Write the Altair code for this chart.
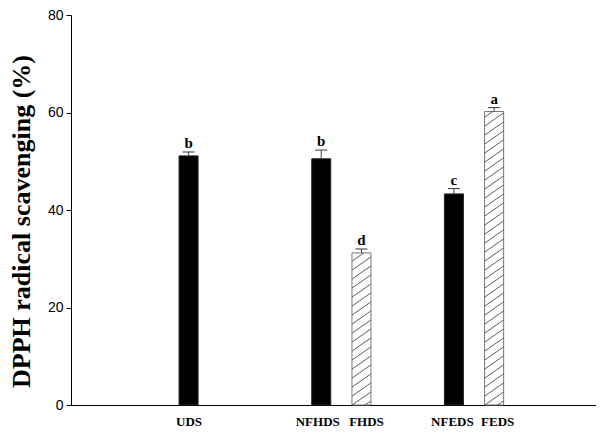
import altair as alt
import pandas as pd
import numpy as np

# ---- data ----
samples = ["UDS", "NFHDS", "FHDS", "NFEDS", "FEDS"]
groups = [1, 2, 2, 3, 3]          # group slot on the x axis
sides = [-1, -1, 1, -1, 1]        # left / right bar inside a group
hatched = [False, False, True, False, True]
scavenging = [51.1, 50.5, 31.2, 43.3, 60.2]
errors = [0.8, 1.8, 0.8, 1.1, 0.8]
letters = ["b", "b", "d", "c", "a"]
y_ticks = [0, 20, 40, 60, 80]

# ---- layout ----
W, H = 525, 390
PX_X = 135.25             # pixels per group slot
XMAX, YMAX = W / PX_X, 80.0
PX_Y = H / YMAX
OFFSET = 20.5 / PX_X      # half distance between bars of a group
HALF = 9.5 / PX_X         # half bar width
RISE = 13 / PX_Y          # hatch rise across the bar, data units
GAP = 9 / PX_Y            # vertical hatch spacing, data units
LABEL_SHIFT = [0, -4, 4.5, -2, 3]   # small horizontal nudges of x labels

pos = [g + s * OFFSET for g, s in zip(groups, sides)]
df = pd.DataFrame({
    "sample": samples,
    "pos": pos,
    "value": scavenging,
    "top": [v + e for v, e in zip(scavenging, errors)],
    "letter": letters,
    "hatched": hatched,
})

# hatch segments clipped to each hatched bar
segs = []
for p, v, h in zip(pos, scavenging, hatched):
    if not h:
        continue
    xl, xr = p - HALF, p + HALF
    k0 = int(np.ceil(-RISE / GAP))
    k1 = int(np.floor(v / GAP))
    for k in range(k0, k1 + 1):
        y0 = k * GAP
        t_lo = max(0.0, -y0 / RISE)
        t_hi = min(1.0, (v - y0) / RISE)
        if t_hi - t_lo > 1e-3:
            segs.append({
                "hx": xl + (xr - xl) * t_lo, "hx2": xl + (xr - xl) * t_hi,
                "hy": y0 + RISE * t_lo, "hy2": y0 + RISE * t_hi,
            })
hatch_df = pd.DataFrame(segs)

label_expr = ""
for p, s in zip(pos, samples):
    label_expr += f"abs(datum.value - {p:.5f}) < 0.01 ? '{s}' : "
label_expr += "''"

label_offset = {
    "condition": [
        {"test": f"abs(datum.value - {p:.5f}) < 0.01", "value": d}
        for p, d in zip(pos, LABEL_SHIFT) if d != 0
    ],
    "value": 0,
}

xscale = alt.Scale(domain=[0, XMAX], nice=False, zero=False)
yscale = alt.Scale(domain=[0, YMAX], nice=False)

x_axis = alt.Axis(values=pos, labelExpr=label_expr, ticks=False, grid=False,
                  domainColor="black", domainWidth=1, title=None,
                  labelFont="Liberation Serif", labelFontWeight="bold",
                  labelFontSize=13, labelColor="black", labelPadding=10,
                  labelOffset=label_offset,
                  labelFlush=False, labelOverlap=False)
y_axis = alt.Axis(values=y_ticks, grid=False, domainColor="black",
                  tickColor="black", tickSize=5, labelPadding=3,
                  labelFont="Liberation Sans", labelFontSize=14,
                  labelColor="black",
                  title="DPPH radical scavenging (%)",
                  titleFont="Liberation Serif", titleFontWeight="bold",
                  titleFontSize=26, titleColor="black",
                  titleX=-37, titleY=206, titleAngle=-90,
                  titleBaseline="bottom", titleAlign="center")


def X(field):
    return alt.X(field, type="quantitative", scale=xscale, axis=x_axis)


def Y(field):
    return alt.Y(field, type="quantitative", scale=yscale, axis=y_axis)


base = alt.Chart(df)

solid = base.transform_filter("!datum.hatched").mark_bar(
    color="black", stroke="#222", strokeWidth=1, size=19
).encode(x=X("pos"), y=Y("value"))

open_bars = base.transform_filter("datum.hatched").mark_bar(
    fill="white", stroke="#777", strokeWidth=1, size=19
).encode(x=X("pos"), y=Y("value"))

hatch = alt.Chart(hatch_df).mark_rule(color="#333", strokeWidth=0.8).encode(
    x=X("hx"), x2="hx2", y=Y("hy"), y2="hy2",
)

err_line = base.mark_rule(color="#444", strokeWidth=1).encode(
    x=X("pos"), y=Y("value"), y2="top",
)

err_cap = base.mark_rule(color="#333", strokeWidth=1, xOffset=-6, x2Offset=6).encode(
    x=X("pos"), x2="pos", y=Y("top"),
)

text = base.mark_text(font="Liberation Serif", fontWeight="bold", fontSize=15,
                      color="black", baseline="alphabetic", dy=-4).encode(
    x=X("pos"), y=Y("top"), text="letter:N",
)

chart = alt.layer(solid, open_bars, hatch, err_line, err_cap, text).properties(
    width=W, height=H,
    autosize=alt.AutoSizeParams(type="none"),
    padding={"left": 63, "top": 7, "right": 0, "bottom": 22},
    background="white",
).configure_view(stroke=None)

chart.save("out.html", embed_options={"renderer": "svg", "actions": False})
